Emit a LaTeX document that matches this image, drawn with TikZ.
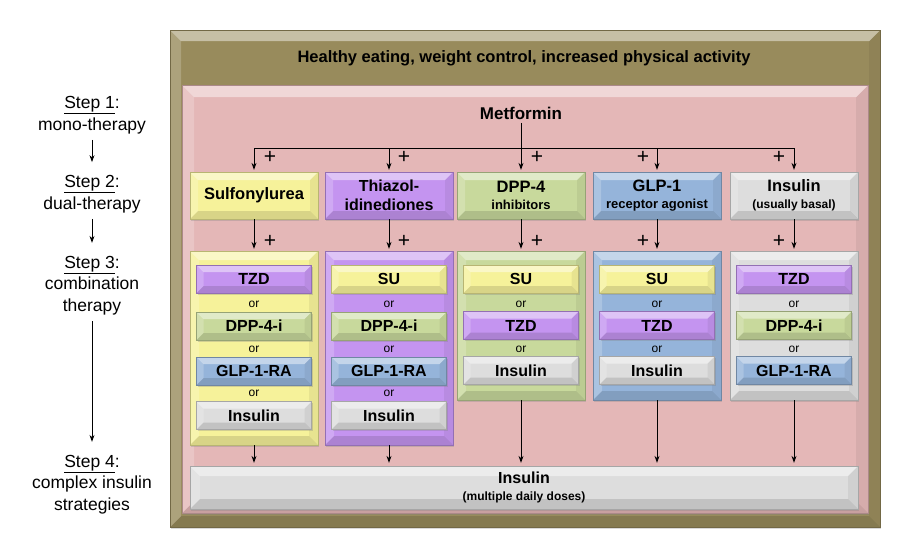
\documentclass[tikz,border=0pt]{standalone}
\usepackage{fontspec}
\setmainfont{Liberation Sans}
\usetikzlibrary{arrows.meta,shadows}
\definecolor{olivebg}{RGB}{152,139,92}
\definecolor{pinkbg}{RGB}{228,183,183}
\definecolor{cyel}{RGB}{246,242,154}
\definecolor{cpur}{RGB}{196,148,240}
\definecolor{cgrn}{RGB}{200,217,156}
\definecolor{cblu}{RGB}{149,180,218}
\definecolor{cgry}{RGB}{221,221,221}
\newcommand\bevelpic[1]{%
  \fill[white,opacity=0.45] (path picture bounding box.north west) -- (path picture bounding box.north east) -- ([xshift=-#1,yshift=-#1]path picture bounding box.north east) -- ([xshift=#1,yshift=-#1]path picture bounding box.north west) -- cycle;
  \fill[white,opacity=0.2] (path picture bounding box.north west) -- (path picture bounding box.south west) -- ([xshift=#1,yshift=#1]path picture bounding box.south west) -- ([xshift=#1,yshift=-#1]path picture bounding box.north west) -- cycle;
  \fill[black,opacity=0.06] (path picture bounding box.north east) -- (path picture bounding box.south east) -- ([xshift=-#1,yshift=#1]path picture bounding box.south east) -- ([xshift=-#1,yshift=-#1]path picture bounding box.north east) -- cycle;
  \fill[black,opacity=0.12] (path picture bounding box.south west) -- (path picture bounding box.south east) -- ([xshift=-#1,yshift=#1]path picture bounding box.south east) -- ([xshift=#1,yshift=#1]path picture bounding box.south west) -- cycle;
}
\tikzset{
  bev/.style 2 args={fill=#1, draw=#1!75!black, line width=0.3pt, inner sep=0pt, align=center,
    drop shadow={opacity=0.3, shadow xshift=1pt, shadow yshift=-1.5pt},
    path picture={\bevelpic{#2}}},
  rowbox/.style={bev={#1}{8pt}, minimum width=128pt, minimum height=47pt, font=\bfseries\fontsize{16.5}{18}\selectfont},
  cont/.style={bev={#1}{9pt}, minimum width=128pt},
  drug/.style={bev={#1}{7pt}, minimum width=115pt, minimum height=28pt, font=\bfseries\fontsize{16}{18}\selectfont},
  ortxt/.style={font=\fontsize{12}{14}\selectfont, inner sep=0pt},
  plus/.style={font=\fontsize{21}{21}\selectfont, inner sep=0pt},
  steptxt/.style={font=\fontsize{17.5}{21.5}\selectfont, align=center, inner sep=0pt},
  arr/.style={-{Stealth[length=7pt,width=5pt]}, line width=0.9pt},
  conn/.style={line width=0.9pt}
}
\begin{document}
\begin{tikzpicture}[x=1pt,y=-1pt]
\useasboundingbox (0,0) rectangle (900,542);
% backgrounds
\node[bev={olivebg}{11pt}, minimum width=710pt, minimum height=497pt, anchor=north west] (olive) at (170,30) {};
\node[bev={pinkbg}{12pt}, minimum width=686pt, minimum height=428pt, anchor=north west, drop shadow={opacity=0}] (pink) at (182,85) {};
\node[font=\bfseries\fontsize{16.5}{18}\selectfont] (head) at (524,58) {Healthy eating, weight control, increased physical activity};
\node[font=\bfseries\fontsize{17}{19}\selectfont] (met) at (521,113) {Metformin};
% row 2
\node[rowbox=cyel] (r1) at (254,195.5) {Sulfonylurea};
\node[rowbox=cpur, font=\bfseries\fontsize{16}{19}\selectfont] (r2) at (389,195.5) {Thiazol-\\idinediones};
\node[rowbox=cgrn] (r3) at (521,195.5) {DPP-4\\[-1pt]{\fontsize{13}{15}\selectfont inhibitors}};
\node[rowbox=cblu] (r4) at (657,195.5) {GLP-1\\[-1pt]{\fontsize{13}{15}\selectfont receptor agonist}};
\node[rowbox=cgry] (r5) at (794,195.5) {Insulin\\[-1pt]{\fontsize{12}{14}\selectfont (usually basal)}};
% branch from metformin
\coordinate (hb) at (521,148);
\coordinate (h1) at (254,148);
\coordinate (h5) at (794,148);
\draw[conn] (met.south) -- (hb);
\draw[conn] (h1) -- (h5);
\foreach \i in {1,...,5} {\draw[arr, shorten >=2pt] (r\i.north |- hb) -- (r\i.north);}
\node[plus] (p1) at (270,157) {+};
\node[plus] (p2) at (404,157) {+};
\node[plus] (p3) at (537,157) {+};
\node[plus] (p4) at (643,157) {+};
\node[plus] (p5) at (779,157) {+};
% row 3 containers
\node[cont=cyel, minimum height=194pt] (c1) at (254,348) {};
\node[cont=cpur, minimum height=194pt] (c2) at (389,348) {};
\node[cont=cgrn, minimum height=149pt] (c3) at (521,325.5) {};
\node[cont=cblu, minimum height=149pt] (c4) at (657,325.5) {};
\node[cont=cgry, minimum height=149pt] (c5) at (794,325.5) {};
\foreach \i in {1,...,5} {\draw[arr, shorten >=2pt] (r\i.south) -- (c\i.north);}
\node[plus] (q1) at (270,241) {+};
\node[plus] (q2) at (404,241) {+};
\node[plus] (q3) at (537,241) {+};
\node[plus] (q4) at (643,241) {+};
\node[plus] (q5) at (779,241) {+};
% column 1
\node[drug=cpur] (a1) at (254,279) {TZD};
\node[ortxt] (o11) at (254,304) {or};
\node[drug=cgrn] (a2) at (254,326) {DPP-4-i};
\node[ortxt] (o12) at (254,349) {or};
\node[drug=cblu] (a3) at (254,371) {GLP-1-RA};
\node[ortxt] (o13) at (254,393) {or};
\node[drug=cgry] (a4) at (254,415.5) {Insulin};
% column 2
\node[drug=cyel] (b1) at (389,279) {SU};
\node[ortxt] (o21) at (389,304) {or};
\node[drug=cgrn] (b2) at (389,326) {DPP-4-i};
\node[ortxt] (o22) at (389,349) {or};
\node[drug=cblu] (b3) at (389,371) {GLP-1-RA};
\node[ortxt] (o23) at (389,393) {or};
\node[drug=cgry] (b4) at (389,415.5) {Insulin};
% column 3
\node[drug=cyel] (d1) at (521,279) {SU};
\node[ortxt] (o31) at (521,304) {or};
\node[drug=cpur] (d2) at (521,325.5) {TZD};
\node[ortxt] (o32) at (521,349) {or};
\node[drug=cgry] (d3) at (521,370.5) {Insulin};
% column 4
\node[drug=cyel] (e1) at (657,279) {SU};
\node[ortxt] (o41) at (657,304) {or};
\node[drug=cpur] (e2) at (657,325.5) {TZD};
\node[ortxt] (o42) at (657,349) {or};
\node[drug=cgry] (e3) at (657,370.5) {Insulin};
% column 5
\node[drug=cpur] (f1) at (794,279) {TZD};
\node[ortxt] (o51) at (794,304) {or};
\node[drug=cgrn] (f2) at (794,325.5) {DPP-4-i};
\node[ortxt] (o52) at (794,349) {or};
\node[drug=cblu] (f3) at (794,370.5) {GLP-1-RA};
% bottom insulin
\node[bev={cgry}{10pt}, minimum width=668pt, minimum height=43pt, font=\bfseries\fontsize{16}{18}\selectfont] (ins) at (524,487.5) {Insulin\\[-1pt]{\fontsize{12}{14}\selectfont (multiple daily doses)}};
\foreach \i in {1,...,5} {\draw[arr, shorten >=3pt] (c\i.south) -- (c\i.south |- ins.north);}
% step labels
\node[steptxt] (s1) at (92,115) {\underline{Step 1}:\\mono-therapy};
\node[steptxt] (s2) at (92,194) {\underline{Step 2}:\\dual-therapy};
\node[steptxt] (s3) at (92,285.5) {\underline{Step 3}:\\combination\\therapy};
\node[steptxt] (s4) at (92,484.5) {\underline{Step 4}:\\complex insulin\\strategies};
\draw[arr, shorten <=6pt, shorten >=13pt] (s1.south) -- (s2.north);
\draw[arr, shorten <=6pt, shorten >=13pt] (s2.south) -- (s3.north);
\draw[arr, shorten <=6pt, shorten >=13pt] (s3.south) -- (s4.north);
\end{tikzpicture}
\end{document}
